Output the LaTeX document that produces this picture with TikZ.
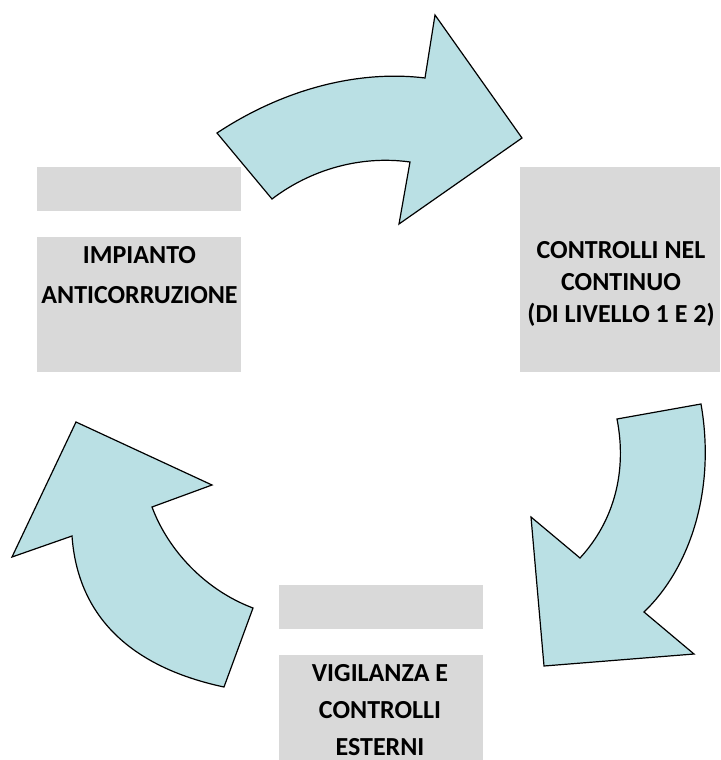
\documentclass[tikz,border=0pt]{standalone}
\usepackage{fontspec}
\setmainfont{Carlito}
\begin{document}
\begin{tikzpicture}[x=1pt,y=-1pt,
  arrowshape/.style={draw=black,line width=1.2pt,fill=arrowfill,line join=miter},
  graybox/.style={fill=boxgray,draw=none},
  label/.style={font=\bfseries\fontsize{26}{40}\selectfont,align=center,inner sep=0pt,anchor=north}]
\definecolor{arrowfill}{RGB}{186,224,228}
\definecolor{boxgray}{RGB}{217,217,217}
\useasboundingbox (0,0) rectangle (720,760);
% gray boxes
\path[graybox] (37,167) rectangle (241,211);
\path[graybox] (37,237) rectangle (241,372);
\path[graybox] (520,167) rectangle (720,372);
\path[graybox] (279,585) rectangle (483,629);
\path[graybox] (279,655) rectangle (483,760);
% top arrow
\draw[arrowshape] (217,133) .. controls (285,88) and (360,70) .. (425,78)
  -- (435,15) -- (522,138) -- (399,224) -- (410,162)
  .. controls (360,155) and (310,170) .. (272,199) -- cycle;
% right arrow
\draw[arrowshape] (701,404) -- (617,419) .. controls (627,470) and (615,520) .. (580,558)
  -- (531,517) -- (544,666) -- (694,654) -- (644,612)
  .. controls (690,568) and (716,490) .. (701,404) -- cycle;
% left arrow
\draw[arrowshape] (224,687) -- (253,608) .. controls (205,590) and (168,550) .. (152,507)
  -- (212,485) -- (76,422) -- (12,557) -- (72,536)
  .. controls (78,620) and (135,668) .. (224,687) -- cycle;
% labels
\node[label] (impianto) at (139.5,246.7) {IMPIANTO\\ANTICORRUZIONE};
\node[label,font=\bfseries\fontsize{26}{32}\selectfont] (controlli) at (621,241.7) {CONTROLLI NEL\\CONTINUO\\(DI LIVELLO 1 E 2)};
\node[label,font=\bfseries\fontsize{26}{37}\selectfont] (vigilanza) at (380,664) {VIGILANZA E\\CONTROLLI\\ESTERNI};
\end{tikzpicture}
\end{document}
